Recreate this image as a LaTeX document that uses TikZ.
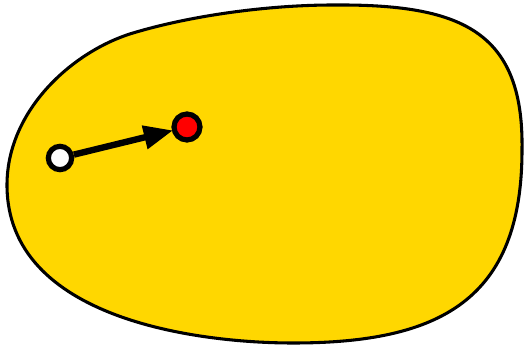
\documentclass[tikz,border=0pt]{standalone}
\usetikzlibrary{arrows.meta}
\definecolor{blobyellow}{HTML}{FFD700}
\begin{document}
\begin{tikzpicture}[x=0.75pt,y=-0.75pt,
  dot/.style={circle,draw=black,line width=3.9pt,minimum size=24pt,inner sep=0pt},
  conn/.style={line width=4.8pt,-{Triangle[length=22pt,width=17pt]},shorten >=-1pt}]
\useasboundingbox (0,0) rectangle (526,346);
\draw[fill=blobyellow,line width=2.3pt]
  (7,185) .. controls (7,110) and (73,51) .. (133,33)
  .. controls (193,15) and (270,5) .. (333,5)
  .. controls (460,4) and (524,30) .. (522,150)
  .. controls (522,300) and (440,343) .. (293,343)
  .. controls (200,343) and (7,320) .. (7,185) -- cycle;
\node[dot,fill=white,minimum size=17.5pt] (w) at (60,158) {};
\node[dot,fill=red,minimum size=19.5pt] (r) at (187,127) {};
\draw[conn] (w) -- (r);
\end{tikzpicture}
\end{document}
